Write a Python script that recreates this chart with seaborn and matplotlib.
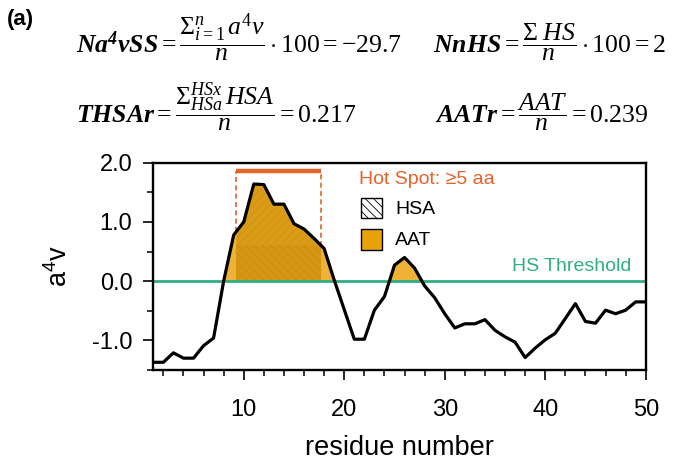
import numpy as np
import pandas as pd
import matplotlib
matplotlib.use("Agg")
import matplotlib.pyplot as plt
from matplotlib.patches import Rectangle
import seaborn as sns

# ---------------- data ----------------
residue = list(range(1, 51))
a4v = [-1.37, -1.37, -1.21, -1.30, -1.30, -1.09, -0.96, 0.00, 0.78, 1.00,
       1.64, 1.63, 1.30, 1.30, 0.97, 0.88, 0.72, 0.55, 0.02, -0.48,
       -0.98, -0.98, -0.49, -0.26, 0.27, 0.40, 0.22, -0.08, -0.28, -0.55,
       -0.79, -0.72, -0.72, -0.65, -0.83, -0.94, -1.03, -1.29, -1.13, -0.99,
       -0.88, -0.63, -0.38, -0.68, -0.71, -0.49, -0.55, -0.49, -0.35, -0.35]
hs_threshold = 0.0
hot_spot_range = [9.25, 17.7]
hot_spot_bar_y = 1.86
x_major = [10, 20, 30, 40, 50]
y_major = [-1.0, 0.0, 1.0, 2.0]
y_minor = [-1.5, -0.5, 0.5, 1.5]

formulas = [
    r'$\mathbf{Na^{4}vSS} = \dfrac{\Sigma_{i=1}^{n}\, a^{4}v}{n} \cdot 100 = -29.7$',
    r'$\mathbf{NnHS} = \dfrac{\Sigma\; HS}{n} \cdot 100 = 2$',
    r'$\mathbf{THSAr} = \dfrac{\Sigma_{HSa}^{HSx}\, HSA}{n} = 0.217$',
    r'$\mathbf{AATr} = \dfrac{AAT}{n} = 0.239$',
]

# ---------------- style ----------------
sns.set_style("ticks")
plt.rcParams['font.family'] = ['Liberation Sans', 'DejaVu Sans']
plt.rcParams['axes.unicode_minus'] = False
plt.rcParams['mathtext.fontset'] = 'custom'
plt.rcParams['mathtext.rm'] = 'Liberation Serif'
plt.rcParams['mathtext.it'] = 'Liberation Serif:italic'
plt.rcParams['mathtext.bf'] = 'Liberation Serif:bold:italic'
plt.rcParams['hatch.linewidth'] = 0.6
for k in ['text.color', 'axes.labelcolor', 'xtick.color', 'ytick.color', 'axes.edgecolor']:
    plt.rcParams[k] = 'black'

ORANGE = '#E5622A'
GREEN = '#2FAE84'
AAT_COL = '#EDB236'
HSA_COL = '#DA9C17'

df = pd.DataFrame({'residue': residue, 'a4v': a4v})

fig = plt.figure(figsize=(6.93, 4.65), dpi=100)
ax = fig.add_axes([0.2212, 0.2043, 0.7106, 0.4458])

x = df['residue'].to_numpy(float)
y = df['a4v'].to_numpy(float)
xf = np.linspace(x.min(), x.max(), 2000)
yf = np.interp(xf, x, y)

# AAT fill (all above threshold)
ax.fill_between(xf, yf, hs_threshold, where=yf > hs_threshold, color=AAT_COL,
                linewidth=0, zorder=1)
# HSA region (hot spot)
m = (xf >= hot_spot_range[0]) & (xf <= hot_spot_range[1])
ax.fill_between(xf[m], yf[m], hs_threshold, facecolor=HSA_COL, edgecolor='#CF9214',
                hatch='////', linewidth=0, zorder=1.5)
ymin_hs = yf[m].min()
ax.fill_between(xf[m], np.minimum(yf[m], ymin_hs), hs_threshold, facecolor='#D39414',
                edgecolor='#C68A10', hatch='\\\\\\\\', linewidth=0, zorder=1.6, alpha=0.7)

# threshold line
ax.axhline(hs_threshold, color=GREEN, lw=2.0, zorder=2)

# curve
sns.lineplot(data=df, x='residue', y='a4v', color='black', lw=2.3, ax=ax, zorder=3)

# hot spot bracket
ax.plot(hot_spot_range, [hot_spot_bar_y, hot_spot_bar_y], color=ORANGE, lw=3.2,
        solid_capstyle='butt', zorder=3)
for xe in hot_spot_range:
    ax.plot([xe, xe], [np.interp(xe, x, y), hot_spot_bar_y], color=ORANGE, lw=1.2,
            ls=(0, (3, 2)), zorder=2.5)

ax.set_xlim(1, 50)
ax.set_ylim(-1.5, 2.0)
ax.set_xticks(x_major)
ax.set_xticks([v for v in range(2, 50, 2) if v not in x_major], minor=True)
ax.set_yticks(y_major)
ax.set_yticklabels([f'{v:.1f}' for v in y_major])
ax.set_yticks(y_minor, minor=True)
ax.tick_params(which='major', direction='out', length=7, width=1.2, labelsize=17)
ax.tick_params(axis='y', which='major', pad=8)
ax.tick_params(axis='x', which='major', pad=14)
ax.tick_params(which='minor', direction='out', length=4.5, width=1.1)
for s in ax.spines.values():
    s.set_visible(True)
    s.set_linewidth(1.7)
ax.set_xlabel('residue number', fontsize=19.5, labelpad=10)
ax.set_ylabel(r'$\mathregular{a^4v}$', fontsize=19.5, labelpad=14)

# legend (manual)
ax.text(0.418, 0.920, 'Hot Spot: \u22655 aa', color=ORANGE, fontsize=14,
        transform=ax.transAxes, va='center', ha='left')
ax.add_patch(Rectangle((0.4211, 0.732), 0.0427, 0.096, transform=ax.transAxes,
                       facecolor='white', edgecolor='black', hatch='\\\\\\\\', lw=1.0))
ax.text(0.4909, 0.775, 'HSA', fontsize=14, transform=ax.transAxes, va='center', ha='left')
ax.add_patch(Rectangle((0.4211, 0.579), 0.0427, 0.100, transform=ax.transAxes,
                       facecolor='#E9A20C', edgecolor='black', lw=1.0))
ax.text(0.4909, 0.627, 'AAT', fontsize=14, transform=ax.transAxes, va='center', ha='left')
ax.text(0.9716, 0.498, 'HS Threshold', color=GREEN, fontsize=14,
        transform=ax.transAxes, va='center', ha='right')

# header
fig.text(0.010, 0.981, '(a)', fontsize=16, fontweight='bold', va='top', ha='left')
fs = 18.5
fig.text(76 / 693, 1 - 53 / 465, formulas[0], fontsize=fs, va='baseline', ha='left')
fig.text(433 / 693, 1 - 53 / 465, formulas[1], fontsize=fs, va='baseline', ha='left')
fig.text(76 / 693, 1 - 123 / 465, formulas[2], fontsize=fs, va='baseline', ha='left')
fig.text(435 / 693, 1 - 123 / 465, formulas[3], fontsize=fs, va='baseline', ha='left')

fig.savefig('out.png', dpi=100)
